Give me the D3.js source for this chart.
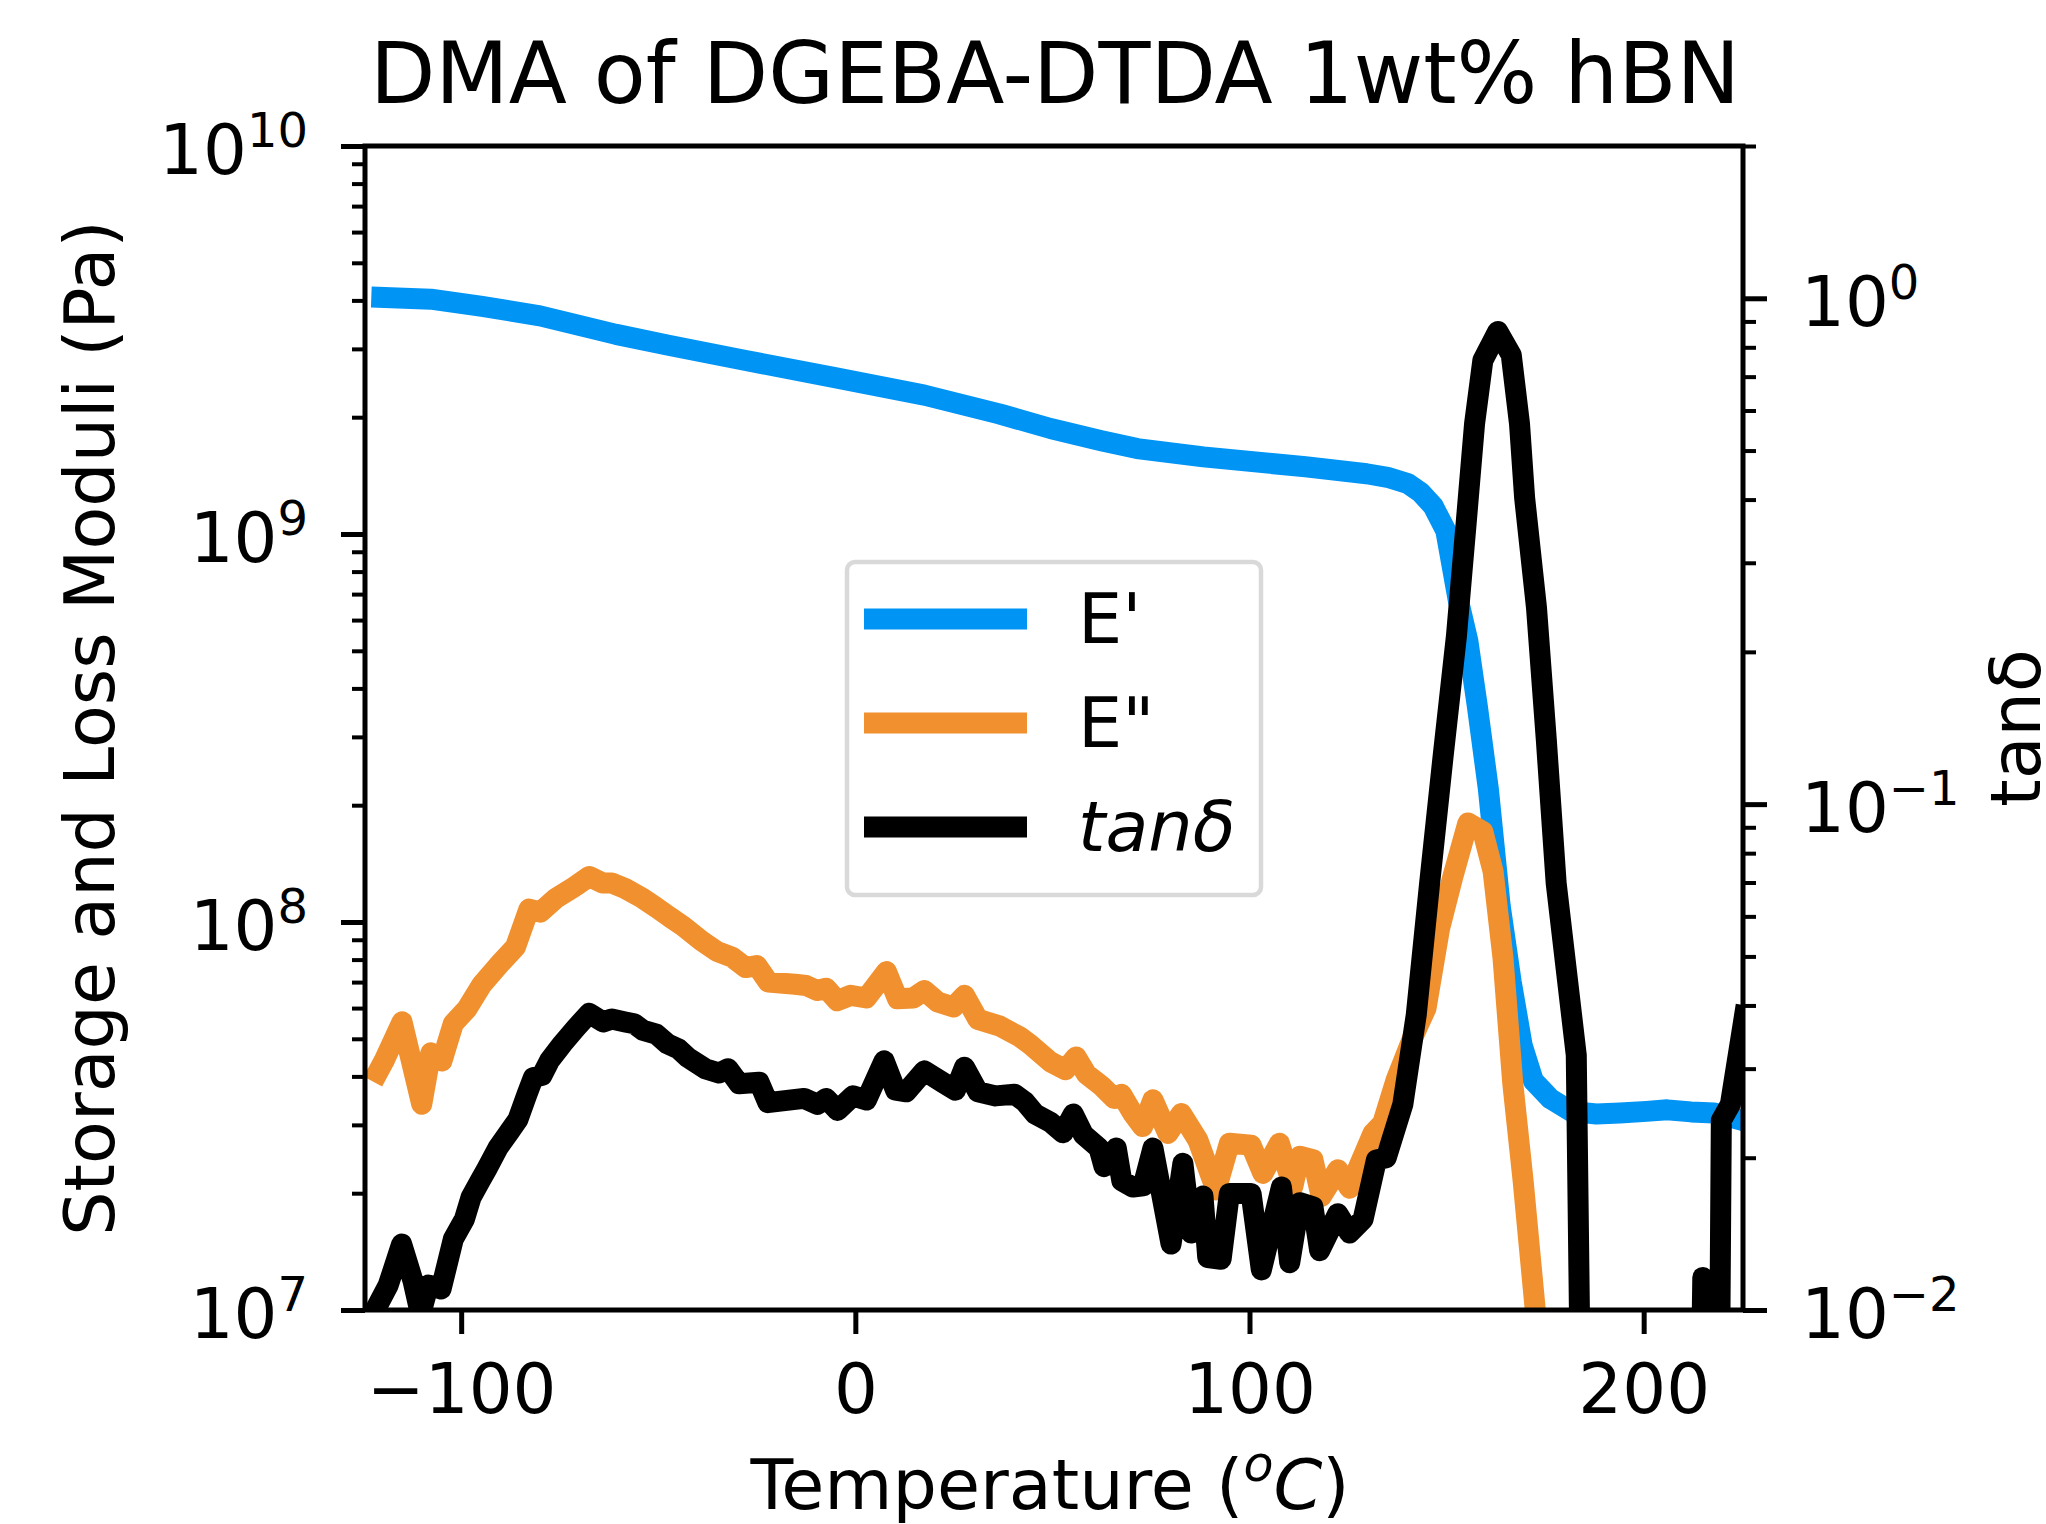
<!DOCTYPE html>
<meta charset="utf-8" />

<!-- Load d3.js -->
<script src="https://d3js.org/d3.v7.min.js"></script>

<style>
	body { margin: 0; background: #fff; }
</style>

<div id="my_dataviz"></div>

<script>
	// values
	// storage modulus E' (Pa), left axis
	var tempStorage = [-122.8, -107.7, -94.7, -80.0, -60.7, -47.1, -27.8, -5.2, 17.5, 36.5, 49.5, 62.4, 71.5, 88.3, 114.2, 129.7, 135.0, 140.1, 143.4, 146.6, 149.8, 152.9, 155.4, 157.8, 160.6, 163.6, 166.4, 169.2, 172.0, 176.4, 181.6, 188.0, 194.0, 200.7, 206.0, 212.0, 217.8, 221.5, 226.0];
	var storage = [4.08e9, 4.03e9, 3.86e9, 3.65e9, 3.27e9, 3.06e9, 2.80e9, 2.53e9, 2.28e9, 2.04e9, 1.87e9, 1.74e9, 1.66e9, 1.58e9, 1.49e9, 1.43e9, 1.40e9, 1.35e9, 1.28e9, 1.18e9, 1.02e9, 6.8e8, 5.3e8, 3.6e8, 2.2e8, 1.1e8, 7.0e7, 4.8e7, 3.9e7, 3.5e7, 3.25e7, 3.2e7, 3.22e7, 3.25e7, 3.28e7, 3.24e7, 3.22e7, 3.15e7, 3.06e7];

	// loss modulus E'' (Pa), left axis
	var tempLoss = [-122.4, -119.6, -115.0, -110.0, -107.7, -104.9, -102.0, -98.6, -94.7, -90.1, -86.2, -82.8, -79.9, -76.0, -71.4, -67.5, -64.1, -61.8, -58.4, -53.9, -50.5, -47.1, -43.7, -39.1, -35.2, -31.2, -27.8, -25.0, -22.1, -15.3, -12.5, -9.7, -7.4, -4.6, -1.2, 2.8, 7.9, 10.7, 14.7, 17.5, 20.9, 24.9, 27.7, 31.1, 36.5, 41.7, 44.4, 49.5, 53.3, 56.0, 58.6, 62.5, 65.7, 67.5, 70.4, 72.9, 75.5, 79.3, 82.7, 86.9, 91.5, 94.9, 100.4, 103.4, 107.6, 111.0, 112.7, 116.1, 118.2, 122.4, 125.4, 131.3, 133.8, 137.2, 141.5, 144.8, 148.2, 151.6, 155.4, 159.2, 161.8, 164.3, 166.8, 169.4, 172.5, 175.5];
	var loss = [3.88e7, 4.38e7, 5.53e7, 3.39e7, 4.60e7, 4.38e7, 5.47e7, 5.96e7, 6.91e7, 7.82e7, 8.63e7, 1.08e8, 1.06e8, 1.15e8, 1.23e8, 1.31e8, 1.26e8, 1.26e8, 1.22e8, 1.15e8, 1.09e8, 1.03e8, 9.76e7, 8.95e7, 8.41e7, 8.11e7, 7.63e7, 7.72e7, 7.00e7, 6.91e7, 6.86e7, 6.66e7, 6.75e7, 6.27e7, 6.47e7, 6.37e7, 7.45e7, 6.34e7, 6.37e7, 6.66e7, 6.22e7, 6.04e7, 6.47e7, 5.61e7, 5.40e7, 5.06e7, 4.83e7, 4.36e7, 4.16e7, 4.49e7, 4.06e7, 3.78e7, 3.51e7, 3.60e7, 3.21e7, 2.97e7, 3.48e7, 2.85e7, 3.21e7, 2.74e7, 2.04e7, 2.69e7, 2.66e7, 2.25e7, 2.69e7, 2.08e7, 2.49e7, 2.44e7, 1.96e7, 2.30e7, 2.06e7, 2.85e7, 3.03e7, 3.92e7, 5.06e7, 6.0e7, 9.6e7, 1.31e8, 1.80e8, 1.71e8, 1.35e8, 8.1e7, 3.83e7, 2.16e7, 1.0e7, 7.0e6];

	// tan delta, right axis
	var tempTan = [-122.4, -118.5, -115.1, -112.2, -110.3, -108.3, -105.1, -102.0, -99.2, -97.5, -95.2, -93.5, -90.7, -87.8, -85.6, -83.3, -81.7, -79.5, -77.6, -74.3, -70.9, -67.5, -64.0, -61.8, -58.4, -56.1, -53.8, -50.5, -47.7, -44.8, -42.6, -38.1, -34.6, -32.3, -29.5, -24.4, -22.2, -13.0, -9.6, -7.4, -4.5, -0.6, 2.8, 7.3, 10.2, 12.9, 17.5, 22.1, 25.4, 27.7, 31.1, 35.6, 40.4, 43.0, 45.6, 49.5, 52.7, 55.3, 57.9, 61.8, 63.1, 66.2, 67.6, 70.4, 73.0, 75.5, 80.1, 83.1, 85.2, 88.2, 89.4, 92.8, 94.9, 100.4, 103.0, 108.1, 110.2, 112.7, 116.1, 117.8, 122.4, 125.4, 128.8, 132.2, 134.7, 138.9, 142.3, 145.7, 149.1, 152.5, 155.0, 157.1, 159.2, 163.0, 166.4, 168.5, 169.8, 172.8, 175.3, 177.8, 182.9, 184.8, 212.0, 215.0, 218.0, 219.7, 222.0, 226.0];
	var tanDelta = [0.0098, 0.0112, 0.0135, 0.0114, 0.0098, 0.0112, 0.0110, 0.0138, 0.0151, 0.0167, 0.0180, 0.0190, 0.0209, 0.0225, 0.0238, 0.0267, 0.0288, 0.0291, 0.0311, 0.0336, 0.0361, 0.0386, 0.0371, 0.0376, 0.0371, 0.0368, 0.0357, 0.0351, 0.0336, 0.0328, 0.0316, 0.0300, 0.0294, 0.0300, 0.0280, 0.0282, 0.0257, 0.0262, 0.0255, 0.0262, 0.0248, 0.0265, 0.0260, 0.0311, 0.0272, 0.0270, 0.0297, 0.0282, 0.0272, 0.0302, 0.0270, 0.0265, 0.0267, 0.0258, 0.0244, 0.0235, 0.0224, 0.0244, 0.0222, 0.0209, 0.0192, 0.0209, 0.0180, 0.0175, 0.0176, 0.0209, 0.0135, 0.0195, 0.0142, 0.0168, 0.0127, 0.0126, 0.0170, 0.0170, 0.0120, 0.0175, 0.0124, 0.0163, 0.0160, 0.0131, 0.0155, 0.0142, 0.0151, 0.0198, 0.0200, 0.0255, 0.0383, 0.0698, 0.124, 0.215, 0.362, 0.565, 0.754, 0.860, 0.773, 0.565, 0.403, 0.245, 0.134, 0.0698, 0.0319, 0.0020, 0.0003, 0.0116, 0.0003, 0.0237, 0.0255, 0.0400];

	var xTicks = [-100, 0, 100, 200];
	var leftTicks = [1e7, 1e8, 1e9, 1e10];
	var rightTicks = [0.01, 0.1, 1];
	var legendLabels = ["E'", 'E"', 'tanδ'];
	var colors = ['#0094f5', '#f0902f', '#000000'];

	var width = 2046,
		height = 1524;
	var font = "'DejaVu Sans', sans-serif";

	var svg = d3
		.select('#my_dataviz')
		.append('svg')
		.attr('width', width)
		.attr('height', height)
		.style('font-family', font);

	// plot area edges in pixels
	var pLeft = 365,
		pRight = 1743,
		pTop = 146,
		pBottom = 1310;

	var x = d3.scaleLinear().domain([-124.4, 225.2]).range([pLeft, pRight]);
	var yLeft = d3.scaleLog().domain([1e7, 1e10]).range([pBottom, pTop]);
	var yRight = d3.scaleLog().domain([0.01, 2]).range([pBottom, pTop]);

	// minor ticks 2..9 in every decade
	function minorTicks(lo, hi) {
		var out = [];
		for (var e = lo; e < hi; e++) {
			for (var k = 2; k <= 9; k++) out.push(k * Math.pow(10, e));
		}
		return out;
	}
	var leftMinor = minorTicks(7, 10);
	var rightMinor = minorTicks(-2, 0).concat([2]);

	svg
		.append('clipPath')
		.attr('id', 'plotclip')
		.append('rect')
		.attr('x', pLeft)
		.attr('y', pTop)
		.attr('width', pRight - pLeft)
		.attr('height', pBottom - pTop);

	var plot = svg.append('g').attr('clip-path', 'url(#plotclip)');

	function drawLine(temps, vals, yScale, color) {
		var pts = temps.map(function (t, i) {
			return [t, vals[i]];
		});
		plot
			.append('path')
			.datum(pts)
			.attr('fill', 'none')
			.attr('stroke', color)
			.attr('stroke-width', 21)
			.attr('stroke-linejoin', 'round')
			.attr('stroke-linecap', 'butt')
			.attr(
				'd',
				d3
					.line()
					.x(function (d) {
						return x(d[0]);
					})
					.y(function (d) {
						return yScale(d[1]);
					})
			);
	}

	drawLine(tempStorage, storage, yLeft, colors[0]);
	drawLine(tempLoss, loss, yLeft, colors[1]);
	drawLine(tempTan, tanDelta, yRight, colors[2]);

	// power-of-ten labels with superscript exponent
	function powerLabel(sel) {
		sel.each(function (d) {
			var e = Math.round(Math.log10(d));
			var t = d3.select(this);
			t.text('').attr('dy', '0.4em');
			t.append('tspan').text('10');
			t.append('tspan')
				.attr('dy', -27)
				.attr('font-size', 48)
				.text(e < 0 ? '\u2212' + -e : e);
		});
	}

	function styleAxis(g, w) {
		g.select('.domain').remove();
		g.selectAll('line').attr('stroke', '#000').attr('stroke-width', w);
		g.attr('font-family', font).attr('font-size', 69);
		g.selectAll('text').attr('fill', '#000');
	}

	// X axis
	var gx = svg
		.append('g')
		.attr('transform', 'translate(0,' + pBottom + ')')
		.call(
			d3
				.axisBottom(x)
				.tickValues(xTicks)
				.tickSize(24)
				.tickPadding(30)
				.tickFormat(function (d) {
					return d < 0 ? '\u2212' + -d : d;
				})
		);
	styleAxis(gx, 5);

	// left Y axis
	var gl = svg
		.append('g')
		.attr('transform', 'translate(' + pLeft + ',0)')
		.call(d3.axisLeft(yLeft).tickValues(leftTicks).tickSize(24).tickPadding(33));
	styleAxis(gl, 5);
	powerLabel(gl.selectAll('text'));

	var glm = svg
		.append('g')
		.attr('transform', 'translate(' + pLeft + ',0)')
		.call(d3.axisLeft(yLeft).tickValues(leftMinor).tickSize(13).tickFormat(''));
	styleAxis(glm, 4);

	// right Y axis
	var gr = svg
		.append('g')
		.attr('transform', 'translate(' + pRight + ',0)')
		.call(d3.axisRight(yRight).tickValues(rightTicks).tickSize(24).tickPadding(34));
	styleAxis(gr, 5);
	powerLabel(gr.selectAll('text'));

	var grm = svg
		.append('g')
		.attr('transform', 'translate(' + pRight + ',0)')
		.call(d3.axisRight(yRight).tickValues(rightMinor).tickSize(13).tickFormat(''));
	styleAxis(grm, 4);

	// spines
	svg
		.append('rect')
		.attr('x', pLeft)
		.attr('y', pTop)
		.attr('width', pRight - pLeft)
		.attr('height', pBottom - pTop)
		.attr('fill', 'none')
		.attr('stroke', '#000')
		.attr('stroke-width', 5);

	// Title
	svg
		.append('text')
		.attr('x', 1055)
		.attr('y', 103)
		.attr('text-anchor', 'middle')
		.attr('font-size', 85)
		.text('DMA of DGEBA-DTDA 1wt% hBN');

	// X label
	var xl = svg
		.append('text')
		.attr('x', 1050)
		.attr('y', 1509)
		.attr('text-anchor', 'middle')
		.attr('font-size', 70);
	xl.append('tspan').text('Temperature (');
	xl.append('tspan').attr('font-style', 'italic').attr('font-size', 49).attr('dy', -28).text('o');
	xl.append('tspan').attr('font-style', 'italic').attr('dy', 28).text('C');
	xl.append('tspan').text(')');

	// Y labels
	svg
		.append('text')
		.attr('text-anchor', 'middle')
		.attr('transform', 'translate(114,728)rotate(-90)')
		.attr('font-size', 70)
		.text('Storage and Loss Moduli (Pa)');

	svg
		.append('text')
		.attr('text-anchor', 'middle')
		.attr('transform', 'translate(2040,728)rotate(-90)')
		.attr('font-size', 70)
		.text('tanδ');

	// legend
	var legend = svg.append('g');
	legend
		.append('rect')
		.attr('x', 847)
		.attr('y', 562)
		.attr('width', 414)
		.attr('height', 333)
		.attr('rx', 8)
		.attr('fill', '#fff')
		.attr('stroke', '#d9d9d9')
		.attr('stroke-width', 4.5);

	legendLabels.forEach(function (lab, i) {
		var cy = 619 + i * 104;
		legend
			.append('line')
			.attr('x1', 864)
			.attr('x2', 1027)
			.attr('y1', cy)
			.attr('y2', cy)
			.attr('stroke', colors[i])
			.attr('stroke-width', 21);
		legend
			.append('text')
			.attr('x', 1078)
			.attr('y', cy + 24)
			.attr('font-size', 70)
			.attr('font-style', i === 2 ? 'italic' : 'normal')
			.text(lab);
	});
</script>
